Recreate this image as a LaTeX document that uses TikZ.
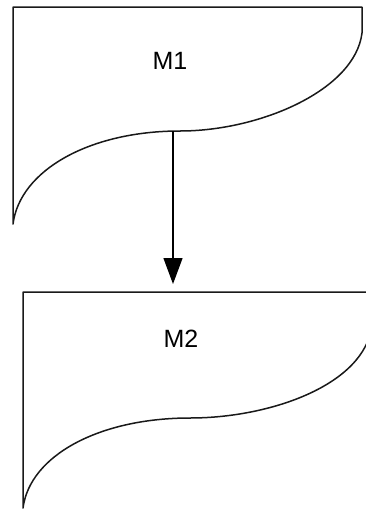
\documentclass[tikz,border=0pt]{standalone}
\usepackage{fontspec}
\setmainfont{Liberation Sans}
\usetikzlibrary{arrows.meta}
\begin{document}
\begin{tikzpicture}[x=1pt,y=-1pt,
  docshape/.style={draw=black!90,line width=1.5pt,line join=round},
  label/.style={font=\fontsize{25}{29}\selectfont,inner sep=0pt,anchor=center},
  flow/.style={draw=black,line width=1.3pt,-{Triangle[length=26pt,width=19pt]}}]
\useasboundingbox[fill=white] (0,0) rectangle (365,512);
% document M1
\draw[docshape] (362,33) -- (362,7) -- (13,7) -- (13,224)
  .. controls (20,170) and (90,131) .. (180,131)
  .. controls (260,131) and (355,90) .. (362,33);
% document M2
\draw[docshape] (372,325) -- (372,292) -- (23,292) -- (23,508)
  .. controls (30,455) and (100,418) .. (190,418)
  .. controls (270,418) and (365,385) .. (372,325);
\node[label] (m1) at (170,61) {M1};
\node[label] (m2) at (181,339) {M2};
\coordinate (m1bot) at (173,131);
\coordinate (m2top) at (173,284);
\draw[flow] (m1bot) -- (m2top);
\end{tikzpicture}
\end{document}
